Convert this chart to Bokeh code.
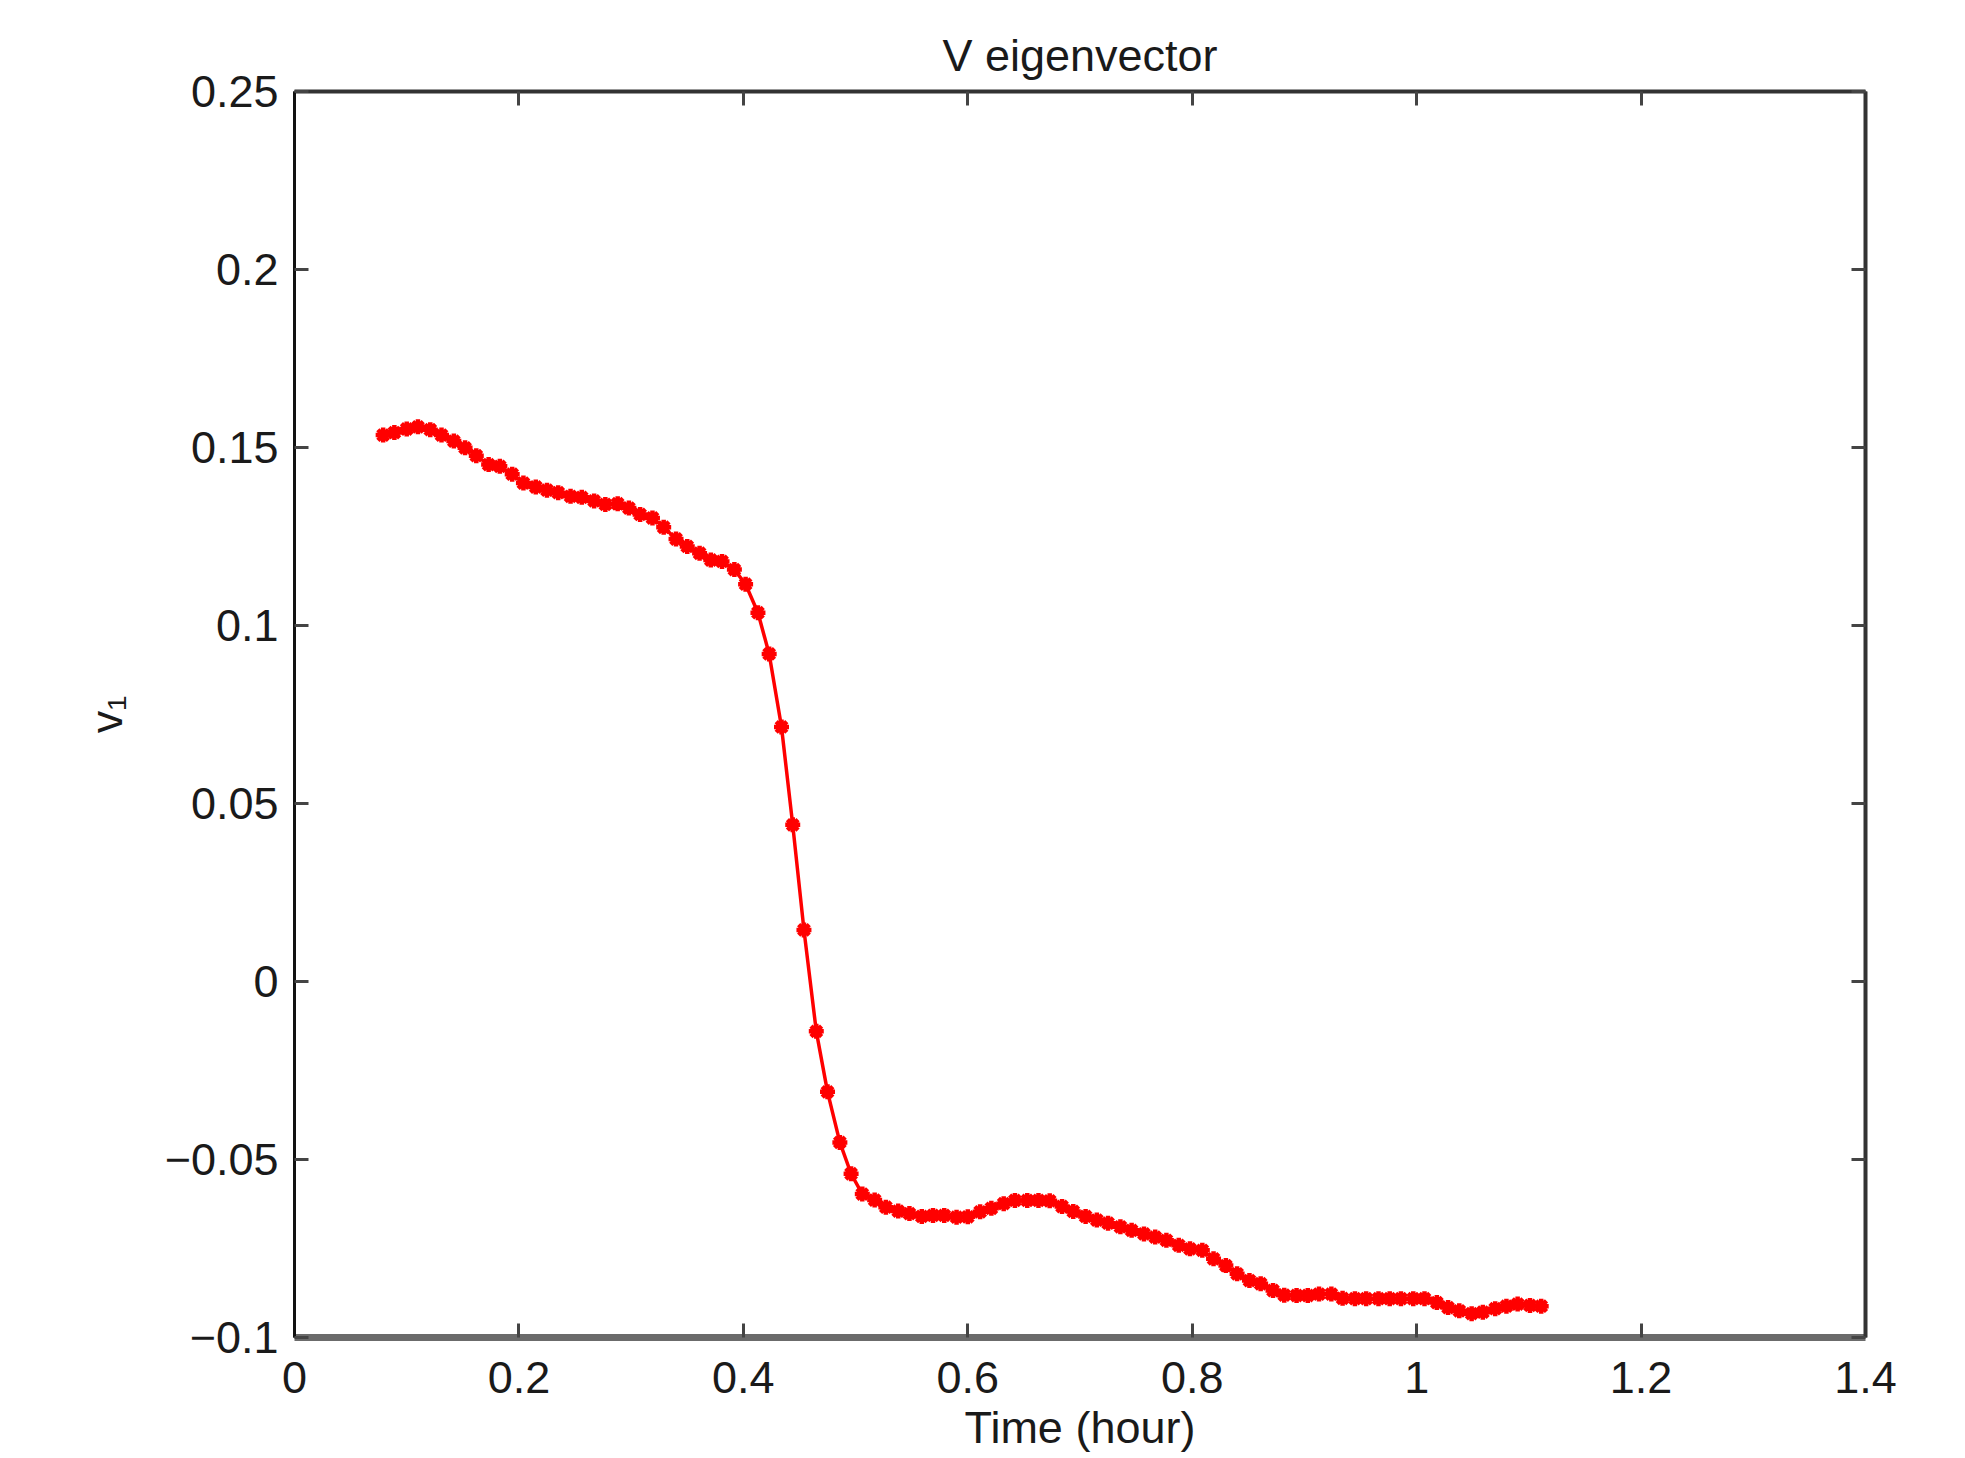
from bokeh.plotting import figure
from bokeh.models import LinearAxis, FixedTicker, Range1d
from bokeh.embed import file_html
from bokeh.resources import INLINE

# ---- data ----
time_hour = [0.079, 0.089, 0.100, 0.110, 0.121, 0.131, 0.142, 0.152, 0.162, 0.173,
             0.183, 0.194, 0.204, 0.215, 0.225, 0.235, 0.246, 0.256, 0.267, 0.277,
             0.288, 0.298, 0.308, 0.319, 0.329, 0.340, 0.350, 0.361, 0.371, 0.381,
             0.392, 0.402, 0.413, 0.423, 0.434, 0.444, 0.454, 0.465, 0.475, 0.486,
             0.496, 0.506, 0.517, 0.527, 0.538, 0.548, 0.559, 0.569, 0.579, 0.590,
             0.600, 0.611, 0.621, 0.632, 0.642, 0.653, 0.663, 0.673, 0.684, 0.694,
             0.705, 0.715, 0.725, 0.736, 0.746, 0.757, 0.767, 0.777, 0.788, 0.798,
             0.809, 0.819, 0.830, 0.840, 0.851, 0.861, 0.872, 0.882, 0.893, 0.903,
             0.913, 0.924, 0.934, 0.945, 0.955, 0.966, 0.976, 0.986, 0.997, 1.007,
             1.018, 1.028, 1.038, 1.049, 1.059, 1.070, 1.080, 1.090, 1.101, 1.111]
v1 = [0.1535, 0.1542, 0.1552, 0.1558, 0.1550, 0.1535, 0.1518, 0.1499, 0.1477, 0.1452,
      0.1447, 0.1425, 0.1400, 0.1389, 0.1380, 0.1373, 0.1363, 0.1360, 0.1350, 0.1340,
      0.1342, 0.1330, 0.1312, 0.1302, 0.1276, 0.1243, 0.1222, 0.1203, 0.1184, 0.1180,
      0.1157, 0.1116, 0.1036, 0.0920, 0.0715, 0.0440, 0.0145, -0.0140, -0.0310, -0.0452,
      -0.0540, -0.0597, -0.0614, -0.0634, -0.0645, -0.0652, -0.0660, -0.0657, -0.0657, -0.0662,
      -0.0661, -0.0647, -0.0637, -0.0624, -0.0615, -0.0615, -0.0615, -0.0616, -0.0632, -0.0646,
      -0.0660, -0.0670, -0.0679, -0.0689, -0.0699, -0.0709, -0.0718, -0.0727, -0.0741, -0.0751,
      -0.0755, -0.0779, -0.0798, -0.0821, -0.0840, -0.0849, -0.0868, -0.0881, -0.0882, -0.0882,
      -0.0878, -0.0878, -0.0890, -0.0891, -0.0891, -0.0891, -0.0891, -0.0891, -0.0891, -0.0891,
      -0.0902, -0.0916, -0.0925, -0.0933, -0.0929, -0.0919, -0.0912, -0.0906, -0.0910, -0.0912]

x_ticks = [0, 0.2, 0.4, 0.6, 0.8, 1.0, 1.2, 1.4]
x_tick_labels = ["0", "0.2", "0.4", "0.6", "0.8", "1", "1.2", "1.4"]
y_ticks = [-0.1, -0.05, 0, 0.05, 0.1, 0.15, 0.2, 0.25]
y_tick_labels = ["\u22120.1", "\u22120.05", "0", "0.05", "0.1", "0.15", "0.2", "0.25"]

title_text = "V eigenvector"
x_label = "Time (hour)"
y_label = "v\u2081"

FONT = "Liberation Sans"
FS = "45px"
TXT = "#1a1a1a"

p = figure(frame_width=1571, frame_height=1246,
           x_range=Range1d(0, 1.4), y_range=Range1d(-0.1, 0.25),
           output_backend="svg", toolbar_location=None,
           min_border_left=294, min_border_top=91, min_border_right=85,
           min_border_bottom=113, background_fill_color="white",
           border_fill_color="white")
p.outline_line_color = None
p.xgrid.visible = False
p.ygrid.visible = False

p.title.text = title_text
p.title.align = "center"
p.title.text_font = FONT
p.title.text_font_size = FS
p.title.text_font_style = "normal"
p.title.text_color = TXT
p.title.standoff = 22

def style_axis(ax, ticks, labels, show_labels, line_color, line_width):
    ax.ticker = FixedTicker(ticks=ticks)
    ax.minor_tick_line_color = None
    ax.major_tick_in = 14
    ax.major_tick_out = 0
    ax.major_tick_line_width = 3
    ax.major_tick_line_color = "#444444"
    ax.axis_line_color = line_color
    ax.axis_line_width = line_width
    ax.major_label_text_font = FONT
    if show_labels:
        ax.major_label_overrides = {t: l for t, l in zip(ticks, labels)}
        ax.major_label_text_font_size = FS
        ax.major_label_text_color = TXT
    else:
        ax.major_label_text_color = None
        ax.major_label_standoff = 0
    ax.axis_label_text_font = FONT
    ax.axis_label_text_font_size = FS
    ax.axis_label_text_font_style = "normal"
    ax.axis_label_text_color = TXT

xb = p.xaxis[0]
style_axis(xb, x_ticks, x_tick_labels, True, "#6b6b6b", 7)
xb.axis_label = x_label
xb.major_label_standoff = 24
xb.axis_label_standoff = 6

yl = p.yaxis[0]
style_axis(yl, y_ticks, y_tick_labels, True, "#111111", 3)
yl.axis_label = y_label
yl.major_label_standoff = 16
yl.axis_label_standoff = 30

xt = LinearAxis()
style_axis(xt, x_ticks, x_tick_labels, False, "#333333", 4)
p.add_layout(xt, "above")

yr = LinearAxis()
style_axis(yr, y_ticks, y_tick_labels, False, "#333333", 4)
p.add_layout(yr, "right")

p.line(time_hour, v1, line_color="#ff0000", line_width=3.5)
p.scatter(time_hour, v1, marker="asterisk", size=15, line_color="#ff0000",
          line_width=4.5)

open("out.html", "w").write(file_html(p, INLINE))
